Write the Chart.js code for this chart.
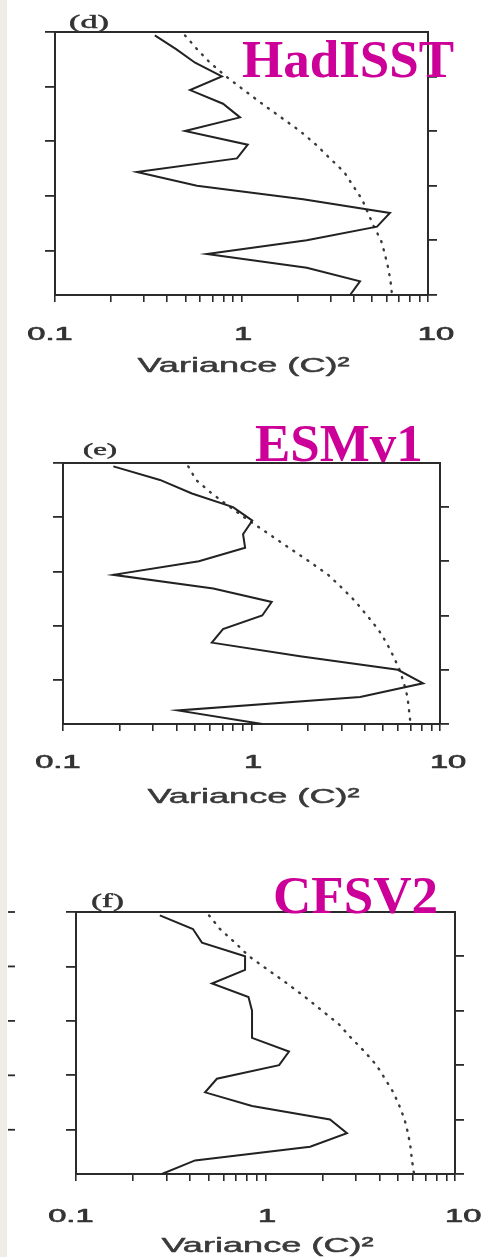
<!DOCTYPE html>
<html>
<head>
<meta charset="utf-8">
<script src="https://cdn.jsdelivr.net/npm/chart.js@4.4.1/dist/chart.umd.min.js"></script>
<style>
  html, body { margin: 0; padding: 0; background: #ffffff; }
  body { width: 485px; height: 1257px; position: relative; overflow: hidden; }
  #strip { position: absolute; left: 0; top: 0; width: 7px; height: 1257px; background: #eeeee7; }
  canvas { position: absolute; left: 0; }
</style>
</head>
<body>
<div id="strip"></div>
<canvas id="panelD" width="485" height="410" style="top:0px"></canvas>
<canvas id="panelE" width="485" height="440" style="top:410px"></canvas>
<canvas id="panelF" width="485" height="407" style="top:850px"></canvas>
<script>
// Vertical levels of the spectral estimates (top = 19, bottom = 0)
const levels = [19, 18, 17, 16, 15, 14, 13, 12, 11, 10, 9, 8, 7, 6, 5, 4, 3, 2, 1, 0];
const levelTop = 19.25;

// Variance (C)^2 at each level: solid = spectrum, dotted = significance curve
const hadSolid  = [0.343, 0.446, 0.564, 0.785, 0.530, 0.796, 0.982, 0.498, 1.08, 0.946,
                   0.275, 0.577, 2.14, 6.25, 5.33, 2.24, 0.653, 2.24, 4.32, 3.82];
const hadDotted = [0.498, 0.577, 0.678, 0.826, 1.03, 1.29, 1.63, 2.06, 2.51, 2.98,
                   3.55, 3.96, 4.43, 4.77, 5.13, 5.60, 5.87, 6.11, 6.30, 6.41];
const esmSolid  = [0.185, 0.327, 0.483, 0.798, 1.01, 0.902, 0.925, 0.526, 0.185, 0.627,
                   1.28, 1.14, 0.706, 0.616, 1.81, 5.98, 8.13, 3.77, 0.407, 1.14];
const esmDotted = [0.462, 0.508, 0.616, 0.769, 0.970, 1.24, 1.58, 2.02, 2.55, 3.04,
                   3.58, 4.10, 4.69, 5.20, 5.66, 6.10, 6.44, 6.72, 6.85, 6.98];
const cfsSolid  = [0.277, 0.414, 0.462, 0.780, 0.780, 0.522, 0.813, 0.849, 0.849, 0.849,
                   1.33, 1.18, 0.554, 0.480, 0.849, 2.19, 2.69, 1.72, 0.425, 0.284];
const cfsDotted = [0.504, 0.575, 0.690, 0.818, 1.03, 1.30, 1.62, 1.99, 2.44, 2.83,
                   3.33, 3.85, 4.27, 4.73, 5.09, 5.42, 5.65, 5.82, 5.93, 6.08];

// Axis ticks
const xTickValues = [0.1, 0.2, 0.3, 0.4, 0.5, 0.6, 0.7, 0.8, 0.9, 1,
                     2, 3, 4, 5, 6, 7, 8, 9, 10];
const xLabelValues = [0.1, 1, 10];
const xLabelText = ['0.1', '1', '10'];
const leftTickValues = [3.25, 7.25, 11.25, 15.25, 19.25];
const rightTickValues = [0, 4, 8, 12, 16];
const xTitle = 'Variance (C)\u00B2';

const INK = '#2b2b2b';

// Horizontally widened text with a faint outline for a heavier stroke
function stretchedText(ctx, text, cx, baseline, font, color, sx, weight) {
  ctx.save();
  ctx.translate(cx, baseline);
  ctx.scale(sx, 1);
  ctx.font = font;
  ctx.fillStyle = color;
  ctx.strokeStyle = color;
  ctx.lineWidth = weight;
  ctx.lineJoin = 'round';
  ctx.textAlign = 'center';
  ctx.textBaseline = 'alphabetic';
  ctx.fillText(text, 0, 0);
  if (weight > 0) ctx.strokeText(text, 0, 0);
  ctx.restore();
}

// Panel tag, model name, x tick labels and axis title
const panelText = {
  id: 'panelText',
  afterDraw(chart, args, o) {
    const ctx = chart.ctx;
    const a = chart.chartArea;
    const xs = chart.scales.x;
    const ys = chart.scales.y;
    ctx.save();
    if (o.strayTicks) {
      ctx.strokeStyle = INK;
      ctx.lineWidth = 1.8;
      leftTickValues.forEach(v => {
        const py = ys.getPixelForValue(v);
        ctx.beginPath();
        ctx.moveTo(8, py);
        ctx.lineTo(15, py);
        ctx.stroke();
      });
    }
    stretchedText(ctx, o.tag, a.left + o.tagDx, a.top + o.tagDy,
      o.tagSize + 'px "Liberation Serif", "Times New Roman", serif', '#333333', 1.8, 0.5);

    ctx.font = 'bold 53px "Liberation Serif", "Times New Roman", serif';
    ctx.fillStyle = '#cc0099';
    ctx.textAlign = 'left';
    ctx.textBaseline = 'alphabetic';
    ctx.fillText(o.name, o.nameX, o.nameY);

    const mid = (a.left + a.right) / 2;
    xLabelValues.forEach((v, i) => {
      const px = xs.getPixelForValue(v);
      stretchedText(ctx, xLabelText[i], mid + (px - mid) * 1.035 + 1.5, a.bottom + o.labelDy,
        '19px "Liberation Sans", Arial, sans-serif', '#333333', 1.72, 0.7);
    });
    stretchedText(ctx, xTitle, mid + 2, a.bottom + o.titleDy,
      '21px "Liberation Sans", Arial, sans-serif', '#3a3a3a', 1.72, 0.5);
    ctx.restore();
  }
};

function buildPanel(id, solid, dotted, pad, text) {
  const border = { display: true, color: INK, width: 2 };
  return new Chart(document.getElementById(id), {
    type: 'line',
    data: {
      datasets: [
        {
          data: solid.map((v, i) => ({ x: v, y: levels[i] })),
          borderColor: '#222222',
          borderWidth: 2,
          pointRadius: 0,
          tension: 0,
          fill: false
        },
        {
          data: dotted.map((v, i) => ({ x: v, y: levels[i] })),
          borderColor: '#3a3a3a',
          borderWidth: 2.4,
          borderDash: [1, 7.5],
          borderCapStyle: 'round',
          pointRadius: 0,
          tension: 0,
          fill: false
        }
      ]
    },
    options: {
      responsive: false,
      animation: false,
      devicePixelRatio: 1,
      events: [],
      layout: { padding: pad },
      plugins: {
        legend: { display: false },
        tooltip: { enabled: false },
        panelText: text
      },
      scales: {
        x: {
          type: 'logarithmic',
          position: 'bottom',
          min: 0.1,
          max: 10,
          afterBuildTicks: s => { s.ticks = xTickValues.map(v => ({ value: v })); },
          ticks: { display: false },
          grid: { drawOnChartArea: false, drawTicks: true, tickLength: 7, color: INK, lineWidth: 1.6 },
          border: border
        },
        x2: {
          type: 'linear',
          position: 'top',
          min: 0,
          max: 1,
          ticks: { display: false },
          grid: { drawOnChartArea: false, drawTicks: false },
          border: border
        },
        y: {
          type: 'linear',
          position: 'left',
          min: 0,
          max: levelTop,
          afterBuildTicks: s => { s.ticks = leftTickValues.map(v => ({ value: v })); },
          ticks: { display: false },
          grid: { drawOnChartArea: false, drawTicks: true, tickLength: 10, color: INK, lineWidth: 1.8 },
          border: border
        },
        y2: {
          type: 'linear',
          position: 'right',
          min: 0,
          max: levelTop,
          afterBuildTicks: s => { s.ticks = rightTickValues.map(v => ({ value: v })); },
          ticks: { display: false },
          grid: { drawOnChartArea: false, drawTicks: true, tickLength: 9, color: INK, lineWidth: 1.8 },
          border: border
        }
      }
    },
    plugins: [panelText]
  });
}

buildPanel('panelD', hadSolid, hadDotted,
  { top: 32, bottom: 108, left: 45, right: 48 },
  { tag: '(d)', tagDx: 34, tagDy: -4, tagSize: 19, name: 'HadISST', nameX: 242, nameY: 77,
    labelDy: 45, titleDy: 77, strayTicks: false });

buildPanel('panelE', esmSolid, esmDotted,
  { top: 53, bottom: 119, left: 53, right: 36 },
  { tag: '(e)', tagDx: 37, tagDy: -8, tagSize: 17, name: 'ESMv1', nameX: 255, nameY: 51,
    labelDy: 44, titleDy: 79, strayTicks: false });

buildPanel('panelF', cfsSolid, cfsDotted,
  { top: 62, bottom: 76, left: 66, right: 21 },
  { tag: '(f)', tagDx: 31.5, tagDy: -5, tagSize: 18, name: 'CFSV2', nameX: 273, nameY: 63,
    labelDy: 48, titleDy: 78, strayTicks: true });
</script>
</body>
</html>
